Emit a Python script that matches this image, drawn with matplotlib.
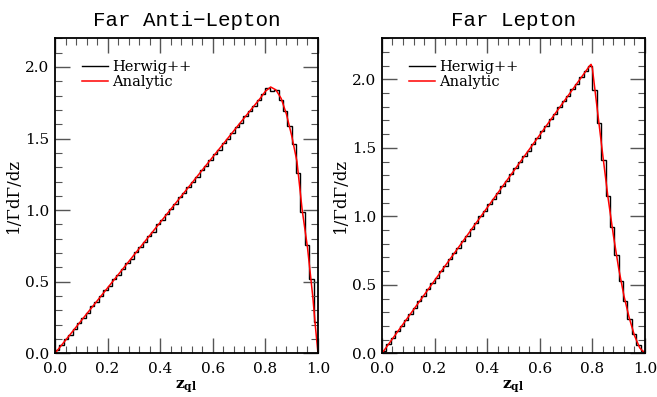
import matplotlib.pyplot as plt
import numpy as np
from matplotlib.ticker import MultipleLocator

plt.rcParams['font.family'] = ['DejaVu Serif']
plt.rcParams['mathtext.fontset'] = 'dejavuserif'

# histogram bin edges (60 equal bins on [0, 1])
edges = np.linspace(0.0, 1.0, 61)

# Far Anti-Lepton: Herwig++ histogram
anti_hist = [0.02, 0.06, 0.10, 0.13, 0.17, 0.21, 0.25, 0.28, 0.33, 0.36,
             0.40, 0.44, 0.47, 0.52, 0.55, 0.59, 0.63, 0.66, 0.71, 0.74,
             0.78, 0.82, 0.85, 0.90, 0.93, 0.97, 1.01, 1.04, 1.09, 1.12,
             1.16, 1.20, 1.23, 1.28, 1.31, 1.35, 1.39, 1.42, 1.47, 1.50,
             1.54, 1.58, 1.61, 1.66, 1.69, 1.73, 1.77, 1.81, 1.85, 1.83,
             1.84, 1.77, 1.69, 1.59, 1.46, 1.26, 0.99, 0.76, 0.52, 0.22]
# Far Anti-Lepton: analytic curve
anti_z = [0.0, 0.70, 0.74, 0.78, 0.80, 0.82, 0.84, 0.86, 0.88, 0.90,
          0.92, 0.94, 0.96, 0.98, 0.99, 1.00]
anti_y = [0.0, 1.60, 1.69, 1.78, 1.83, 1.86, 1.84, 1.78, 1.67, 1.52,
          1.34, 1.00, 0.74, 0.40, 0.19, 0.0]

# Far Lepton: Herwig++ histogram
lep_hist = [0.02, 0.07, 0.11, 0.16, 0.20, 0.24, 0.29, 0.33, 0.38, 0.42,
            0.47, 0.51, 0.55, 0.60, 0.64, 0.69, 0.73, 0.77, 0.82, 0.86,
            0.91, 0.95, 1.00, 1.04, 1.09, 1.13, 1.17, 1.22, 1.26, 1.31,
            1.35, 1.40, 1.44, 1.48, 1.53, 1.57, 1.62, 1.66, 1.71, 1.75,
            1.80, 1.84, 1.88, 1.93, 1.97, 2.02, 2.06, 2.10, 1.92, 1.68,
            1.41, 1.15, 0.92, 0.72, 0.53, 0.38, 0.25, 0.14, 0.06, 0.02]
# Far Lepton: analytic curve
lep_z = [0.0, 0.79, 0.795, 0.80, 0.81, 0.82, 0.84, 0.86, 0.88, 0.90,
         0.92, 0.94, 0.96, 0.98, 1.00]
lep_y = [0.0, 2.10, 2.11, 2.08, 1.92, 1.76, 1.44, 1.13, 0.86, 0.62,
         0.42, 0.26, 0.13, 0.04, 0.0]

titles = ['Far Anti\u2212Lepton', 'Far Lepton']
ytops = [2.2, 2.3]

fig = plt.figure(figsize=(6.57, 3.97), dpi=100)
ax1 = fig.add_axes([0.0837, 0.110, 0.4003, 0.7935])
ax2 = fig.add_axes([0.5814, 0.110, 0.4003, 0.7935])

panels = [(ax1, anti_hist, anti_z, anti_y), (ax2, lep_hist, lep_z, lep_y)]
for i, (ax, hist, cz, cy) in enumerate(panels):
    ax.stairs(hist, edges, color='black', lw=1.0, label='Herwig++')
    ax.plot(cz, cy, color='red', lw=1.1, label='Analytic')
    ax.set_xlim(0, 1)
    ax.set_ylim(0, ytops[i])
    ax.xaxis.set_major_locator(MultipleLocator(0.2))
    ax.xaxis.set_minor_locator(MultipleLocator(0.04))
    ax.yaxis.set_major_locator(MultipleLocator(0.5))
    ax.yaxis.set_minor_locator(MultipleLocator(0.1))
    ax.xaxis.set_major_formatter('{x:.1f}')
    ax.yaxis.set_major_formatter('{x:.1f}')
    ax.tick_params(which='both', direction='in', top=True, right=True,
                   labelsize=11, color='#555555')
    ax.tick_params(which='major', length=11, width=1.0)
    ax.tick_params(which='minor', length=5, width=0.8)
    ax.tick_params(axis='x', which='major', pad=6)
    ax.tick_params(axis='y', which='major', pad=4)
    for sp in ax.spines.values():
        sp.set_linewidth(1.3)
    ax.set_title(titles[i], family='Liberation Mono', fontsize=15, pad=9)
    ax.set_xlabel(r'$\mathbf{z}_{\mathbf{ql}}$', fontsize=11, labelpad=2)
    ax.set_ylabel('1/\u0393d\u0393/dz', fontsize=12, labelpad=2)
    ax.legend(loc='upper left', bbox_to_anchor=(0.08, 0.95), frameon=False,
              fontsize=10.5, handlelength=1.8, handletextpad=0.3,
              labelspacing=0.1, borderaxespad=0)

fig.savefig('out.png', dpi=100)
